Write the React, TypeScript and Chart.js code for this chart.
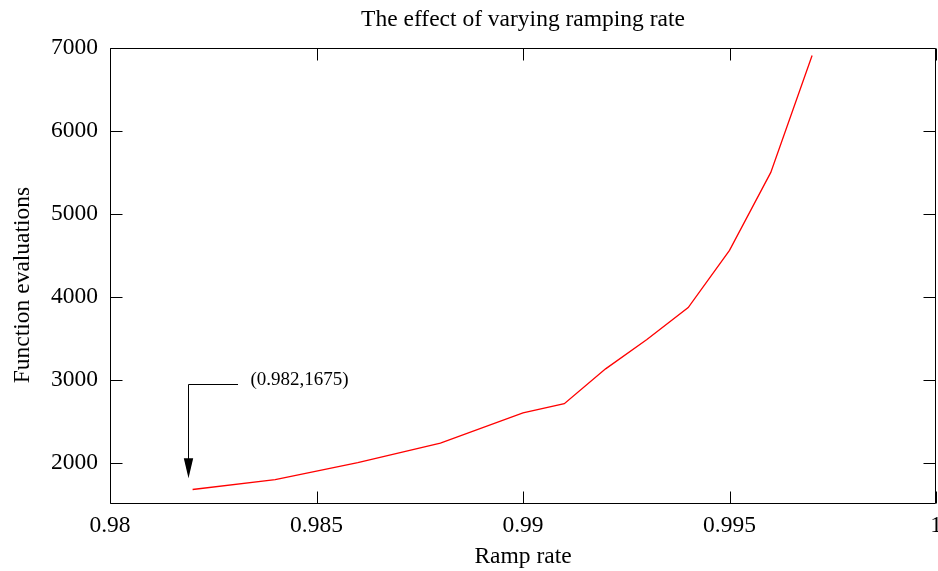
import React, { useEffect, useRef } from "react";
import { Chart, registerables } from "chart.js";

Chart.register(...registerables);

// ---- data ----
const rampRates = [0.982, 0.984, 0.986, 0.988, 0.99, 0.991, 0.992, 0.993, 0.994, 0.995, 0.996, 0.997];
const evaluations = [1675, 1795, 2000, 2235, 2600, 2710, 3130, 3485, 3870, 4560, 5500, 6910];
const xTicks = [0.98, 0.985, 0.99, 0.995, 1];
const yTicks = [2000, 3000, 4000, 5000, 6000, 7000];
const chartTitle = "The effect of varying ramping rate";
const xTitle = "Ramp rate";
const yTitle = "Function evaluations";
const annotationText = "(0.982,1675)";
// annotation anchor points (data units)
const arrowX = 0.9819;
const arrowTopY = 2950;
const arrowTipY = 1810;
const arrowElbowX = 0.9831;
const labelX = 0.9834;
const labelY = 3000;

const FONT = '"Liberation Serif", "Times New Roman", serif';
const FS = 23.5;

const framePlugin = {
  id: "gnuplotFrame",
  beforeDatasetsDraw(chart: any) {
    const { ctx, chartArea: a, scales } = chart;
    const xs = scales.x, ys = scales.y;
    ctx.save();
    ctx.strokeStyle = "#000";
    ctx.lineWidth = 1;
    ctx.beginPath();
    const L = Math.round(a.left) + 0.5, R = Math.round(a.right) - 0.5;
    const T = Math.round(a.top) + 0.5, B = Math.round(a.bottom) - 0.5;
    ctx.rect(L, T, R - L, B - T);
    const tl = 12;
    for (const v of xTicks) {
      const px = Math.round(xs.getPixelForValue(v)) + 0.5;
      ctx.moveTo(px, B); ctx.lineTo(px, B - tl);
      ctx.moveTo(px, T); ctx.lineTo(px, T + tl);
    }
    for (const v of yTicks) {
      const py = Math.round(ys.getPixelForValue(v)) + 0.5;
      ctx.moveTo(L, py); ctx.lineTo(L + tl, py);
      ctx.moveTo(R, py); ctx.lineTo(R - tl, py);
    }
    ctx.stroke();
    ctx.restore();
  },
  afterDraw(chart: any) {
    const { ctx, chartArea: a, scales } = chart;
    const xs = scales.x, ys = scales.y;
    ctx.save();
    // title
    ctx.fillStyle = "#000";
    ctx.font = `${FS}px ${FONT}`;
    ctx.textAlign = "center";
    ctx.textBaseline = "middle";
    ctx.fillText(chartTitle, (a.left + a.right) / 2, 20);
    // y title
    ctx.save();
    ctx.translate(23, 285);
    ctx.rotate(-Math.PI / 2);
    ctx.fillText(yTitle, 0, 0);
    ctx.restore();
    // annotation arrow
    const ax = Math.round(xs.getPixelForValue(arrowX)) + 0.5;
    const ay = Math.round(ys.getPixelForValue(arrowTopY)) + 0.5;
    const ex = xs.getPixelForValue(arrowElbowX);
    const tipY = ys.getPixelForValue(arrowTipY);
    ctx.strokeStyle = "#000";
    ctx.lineWidth = 1;
    ctx.beginPath();
    ctx.moveTo(ex, ay);
    ctx.lineTo(ax, ay);
    ctx.lineTo(ax, tipY - 18);
    ctx.stroke();
    ctx.beginPath();
    ctx.moveTo(ax, tipY);
    ctx.lineTo(ax - 4.7, tipY - 20);
    ctx.lineTo(ax + 4.7, tipY - 20);
    ctx.closePath();
    ctx.fillStyle = "#000";
    ctx.fill();
    ctx.font = `19px ${FONT}`;
    ctx.textAlign = "left";
    ctx.textBaseline = "middle";
    ctx.fillText(annotationText, xs.getPixelForValue(labelX), ys.getPixelForValue(labelY));
    ctx.restore();
  },
};

export default function App() {
  const ref = useRef<HTMLCanvasElement | null>(null);
  useEffect(() => {
    if (!ref.current) return;
    const chart = new Chart(ref.current, {
      type: "line",
      data: {
        datasets: [
          {
            data: rampRates.map((x, i) => ({ x, y: evaluations[i] })),
            borderColor: "#ff0000",
            borderWidth: 1.3,
            pointRadius: 0,
            tension: 0,
            fill: false,
          },
        ],
      },
      options: {
        animation: false,
        responsive: false,
        devicePixelRatio: 1,
        layout: { padding: { top: 48, right: 2, left: 0, bottom: 0 } },
        plugins: { legend: { display: false }, title: { display: false }, tooltip: { enabled: false } },
        scales: {
          x: {
            type: "linear",
            min: 0.98,
            max: 1,
            grid: { display: false, drawTicks: false },
            border: { display: false },
            afterBuildTicks: (s: any) => { s.ticks = xTicks.map((v) => ({ value: v })); },
            afterFit: (s: any) => { s.height = 67; s.paddingLeft = 0; s.paddingRight = 0; },
            ticks: {
              padding: 8,
              color: "#000",
              maxRotation: 0,
              autoSkip: false,
              font: { family: FONT, size: FS },
              callback: (v: any) => String(+Number(v).toFixed(3)),
            },
            title: {
              display: true,
              text: xTitle,
              color: "#000",
              font: { family: FONT, size: FS },
              padding: { top: 0, bottom: 0 },
            },
          },
          y: {
            type: "linear",
            min: 1500,
            max: 7000,
            grid: { display: false, drawTicks: false },
            border: { display: false },
            afterBuildTicks: (s: any) => { s.ticks = yTicks.map((v) => ({ value: v })); },
            afterFit: (s: any) => { s.width = 110; s.paddingTop = 0; s.paddingBottom = 0; },
            ticks: {
              padding: 12,
              color: "#000",
              autoSkip: false,
              font: { family: FONT, size: FS },
              callback: (v: any) => String(v),
            },
          },
        },
      },
      plugins: [framePlugin],
    });
    return () => chart.destroy();
  }, []);
  return (
    <div style={{ position: "fixed", left: 0, top: 0, width: 938, height: 571, background: "#fff" }}>
      <canvas ref={ref} width={938} height={571} style={{ width: 938, height: 571, display: "block" }} />
    </div>
  );
}
